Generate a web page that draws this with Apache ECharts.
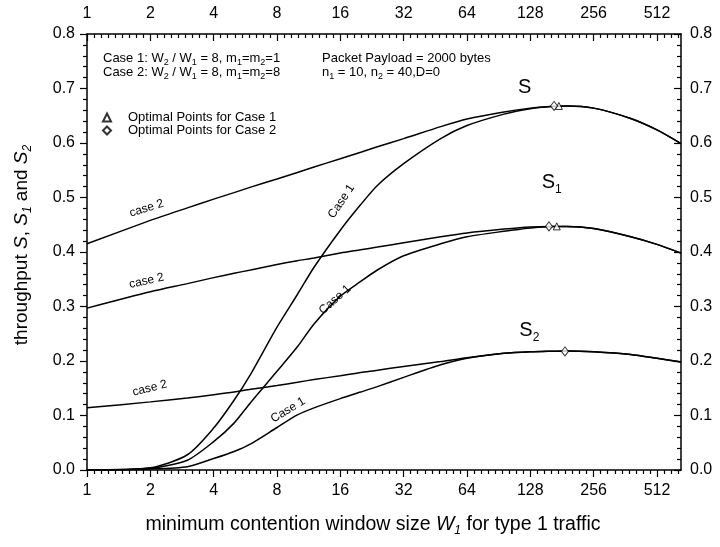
<!DOCTYPE html>
<html>
<head>
<meta charset="utf-8">
<script src="https://cdn.jsdelivr.net/npm/echarts@6/dist/echarts.min.js"></script>
<style>
  html, body { margin: 0; padding: 0; background: #fff; }
  #chart { width: 720px; height: 547px; }
</style>
</head>
<body>
<div id="chart"></div>
<script>
// Minimum contention window W1 (log2 x axis) at which throughput is evaluated
const windowSizes = [1, 2, 3, 4, 5, 6, 8, 10, 12, 16, 20, 24, 32, 48, 64, 96, 128, 160, 192, 256, 384, 512, 666];

// Aggregate throughput S
const sCase1  = [0.000, 0.004, 0.028, 0.077, 0.128, 0.176, 0.262, 0.322, 0.372, 0.440, 0.487, 0.522, 0.562, 0.608, 0.632, 0.653, 0.663, 0.667, 0.668, 0.664, 0.645, 0.624, 0.599];
const sCase2  = [0.415, 0.458, 0.481, 0.497, 0.509, 0.519, 0.534, 0.546, 0.556, 0.571, 0.583, 0.593, 0.608, 0.630, 0.644, 0.657, 0.664, 0.667, 0.668, 0.664, 0.645, 0.624, 0.599];
// Type 1 throughput S1
const s1Case1 = [0.000, 0.003, 0.018, 0.052, 0.086, 0.124, 0.181, 0.226, 0.268, 0.319, 0.346, 0.367, 0.393, 0.415, 0.428, 0.438, 0.444, 0.447, 0.447, 0.443, 0.428, 0.414, 0.398];
const s1Case2 = [0.297, 0.327, 0.342, 0.353, 0.361, 0.367, 0.377, 0.384, 0.389, 0.398, 0.404, 0.409, 0.417, 0.428, 0.435, 0.442, 0.446, 0.447, 0.447, 0.443, 0.428, 0.414, 0.398];
// Type 2 throughput S2
const s2Case1 = [0.000, 0.002, 0.006, 0.021, 0.034, 0.048, 0.078, 0.101, 0.114, 0.131, 0.143, 0.153, 0.170, 0.193, 0.205, 0.214, 0.217, 0.218, 0.2185, 0.217, 0.212, 0.205, 0.198];
const s2Case2 = [0.114, 0.125, 0.132, 0.138, 0.143, 0.148, 0.155, 0.161, 0.166, 0.173, 0.179, 0.183, 0.190, 0.199, 0.206, 0.214, 0.217, 0.218, 0.2185, 0.217, 0.212, 0.205, 0.198];

// Optimal points (W1, throughput)
const optCase1W = [175, 171];
const optCase1V = [0.668, 0.447];
const optCase2W = [166, 157, 187];
const optCase2V = [0.668, 0.447, 0.2175];

// Axis tick labels
const xTickLabels = [1, 2, 4, 8, 16, 32, 64, 128, 256, 512];
const yTickLabels = [0.0, 0.1, 0.2, 0.3, 0.4, 0.5, 0.6, 0.7, 0.8];

const FONT = '"Liberation Sans", Arial, Helvetica, sans-serif';
const chart = echarts.init(document.getElementById('chart'), null, { renderer: 'canvas' });

const lg = Math.log2;
const xMax = lg(windowSizes[windowSizes.length - 1]);
const majorX = xTickLabels.map(lg);
const minorX = [];
for (let o = 0; o < xMax; o++) {
  for (let j = 1; j < 9; j++) {
    const v = o + j / 9;
    if (v < xMax) minorX.push(v);
  }
}
const yStep = yTickLabels[1] - yTickLabels[0];
const yMax = yTickLabels[yTickLabels.length - 1];

const toPairs = (ws, vs) => ws.map((w, i) => [lg(w), vs[i]]);

const curve = (vals) => ({
  type: 'line',
  data: toPairs(windowSizes, vals),
  xAxisIndex: 0, yAxisIndex: 0,
  symbol: 'none',
  smooth: 0.25,
  silent: true,
  lineStyle: { color: '#000', width: 1.5 },
  z: 2
});

const xAxisBase = (position, inside, major, withLabels) => ({
  type: 'value',
  position,
  min: 0,
  max: xMax,
  axisLine: { show: major, onZero: false, lineStyle: { color: '#000', width: 1.5 } },
  axisTick: {
    show: true,
    inside,
    length: major ? 7 : 4,
    customValues: major ? majorX : minorX,
    lineStyle: { color: '#000', width: 1.2 }
  },
  axisLabel: {
    show: withLabels,
    customValues: majorX,
    formatter: v => String(Math.round(Math.pow(2, v))),
    color: '#000',
    fontFamily: FONT,
    fontSize: 16,
    margin: position === 'bottom' ? 13 : 12
  },
  splitLine: { show: false }
});

const yAxisBase = (position, inside) => ({
  type: 'value',
  position,
  min: yTickLabels[0],
  max: yMax,
  interval: yStep,
  axisLine: { show: true, onZero: false, lineStyle: { color: '#000', width: 1.5 } },
  axisTick: { show: true, inside, length: 7, lineStyle: { color: '#000', width: 1.2 } },
  minorTick: { show: true, splitNumber: 5, length: 4, lineStyle: { color: '#000', width: 1.2 } },
  axisLabel: {
    formatter: v => v.toFixed(1),
    color: '#000',
    fontFamily: FONT,
    fontSize: 16,
    margin: position === 'left' ? 12 : 9
  },
  splitLine: { show: false },
  minorSplitLine: { show: false }
});

const txt = { fontFamily: FONT, color: '#000' };
const markerStyle = { color: '#fff', borderColor: '#000', borderWidth: 1 };

chart.setOption({
  animation: false,
  backgroundColor: '#fff',
  grid: { left: 87, right: 39, top: 34, bottom: 77, containLabel: false },
  xAxis: [
    xAxisBase('bottom', false, true, true),
    xAxisBase('bottom', false, false, false),
    xAxisBase('top', true, true, true),
    xAxisBase('top', true, false, false)
  ],
  yAxis: [yAxisBase('left', false), yAxisBase('right', true)],
  legend: {
    data: ['Optimal Points for Case 1', 'Optimal Points for Case 2'],
    orient: 'vertical',
    left: 102,
    top: 111,
    padding: 0,
    itemWidth: 8,
    itemHeight: 8,
    itemGap: 0,
    selectedMode: false,
    textStyle: Object.assign({ fontSize: 13, lineHeight: 12, padding: [0, 0, 0, 12] }, txt)
  },
  series: [
    curve(sCase1), curve(sCase2),
    curve(s1Case1), curve(s1Case2),
    curve(s2Case1), curve(s2Case2),
    {
      type: 'scatter', name: 'Optimal Points for Case 1',
      symbol: 'triangle', symbolSize: 7,
      data: toPairs(optCase1W, optCase1V),
      itemStyle: markerStyle, z: 5, silent: true
    },
    {
      type: 'scatter', name: 'Optimal Points for Case 2',
      symbol: 'diamond', symbolSize: [7, 9],
      data: toPairs(optCase2W, optCase2V),
      itemStyle: markerStyle, z: 6, silent: true
    }
  ]
});

// Text: axis titles, parameter box, curve names and case tags
const sub = (size, italic) => Object.assign({ fontSize: size, lineHeight: size, verticalAlign: 'bottom', fontStyle: italic ? 'italic' : 'normal' }, txt);
const main = (size, lh, italic) => Object.assign({ fontSize: size, lineHeight: lh, verticalAlign: 'middle', fontStyle: italic ? 'italic' : 'normal' }, txt);
const boxRich = { t: main(13, 18), s: sub(9) };

function richText(x, y, text, rich, align, rotation) {
  return {
    type: 'text', x, y, rotation: rotation || 0, silent: true, z: 10,
    style: { text, rich, align: align || 'left', verticalAlign: 'middle' }
  };
}

const px = (w, v) => chart.convertToPixel({ xAxisIndex: 0, yAxisIndex: 0 }, [lg(w), v]);

const xTitleRich = { t: main(19.5, 24), i: main(19.5, 24, true), s: sub(12, true) };
const yTitleRich = { t: main(19, 24), i: main(19, 24, true), s: sub(12, true) };

const graphics = [
  richText(373, 525, '{t|minimum contention window size }{i|W}{s|1}{t| for type 1 traffic}', xTitleRich, 'center'),
  richText(22, 245, '{t|throughput }{i|S}{t|, }{i|S}{s|1}{t| and }{i|S}{s|2}', yTitleRich, 'center', Math.PI / 2),
  richText(103, 58, '{t|Case 1: W}{s|2}{t| / W}{s|1}{t| = 8, m}{s|1}{t|=m}{s|2}{t|=1}', boxRich),
  richText(103, 72, '{t|Case 2: W}{s|2}{t| / W}{s|1}{t| = 8, m}{s|1}{t|=m}{s|2}{t|=8}', boxRich),
  richText(322, 58, '{t|Packet Payload = 2000 bytes}', boxRich),
  richText(322, 72, '{t|n}{s|1}{t| = 10, n}{s|2}{t| = 40,D=0}', boxRich)
];

// Curve names anchored in data space (left edge of the glyphs)
const nameRich = { t: main(20, 26), s: sub(12) };
const curveNames = [
  { text: '{t|S}', w: 112, v: 0.702 },
  { text: '{t|S}{s|1}', w: 145, v: 0.528 },
  { text: '{t|S}{s|2}', w: 113.5, v: 0.256 }
];
curveNames.forEach(n => {
  const p = px(n.w, n.v);
  graphics.push(richText(p[0], p[1], n.text, nameRich));
});

// Case tags written along the curves
const caseTags = [
  { text: 'case 2', w: 1.92, v: 0.480, rot: 17 },
  { text: 'case 2', w: 1.92, v: 0.347, rot: 13 },
  { text: 'case 2', w: 1.99, v: 0.150, rot: 14 },
  { text: 'Case 1', w: 16.2, v: 0.493, rot: 56 },
  { text: 'Case 1', w: 15.1, v: 0.3125, rot: 42 },
  { text: 'Case 1', w: 9.03, v: 0.110, rot: 31 }
];
caseTags.forEach(c => {
  const p = px(c.w, c.v);
  graphics.push({
    type: 'text', x: p[0], y: p[1], rotation: c.rot * Math.PI / 180, silent: true, z: 10,
    style: { text: c.text, fontSize: 12, fontFamily: FONT, fill: '#000', align: 'center', verticalAlign: 'middle' }
  });
});

chart.setOption({ graphic: graphics });
</script>
</body>
</html>
